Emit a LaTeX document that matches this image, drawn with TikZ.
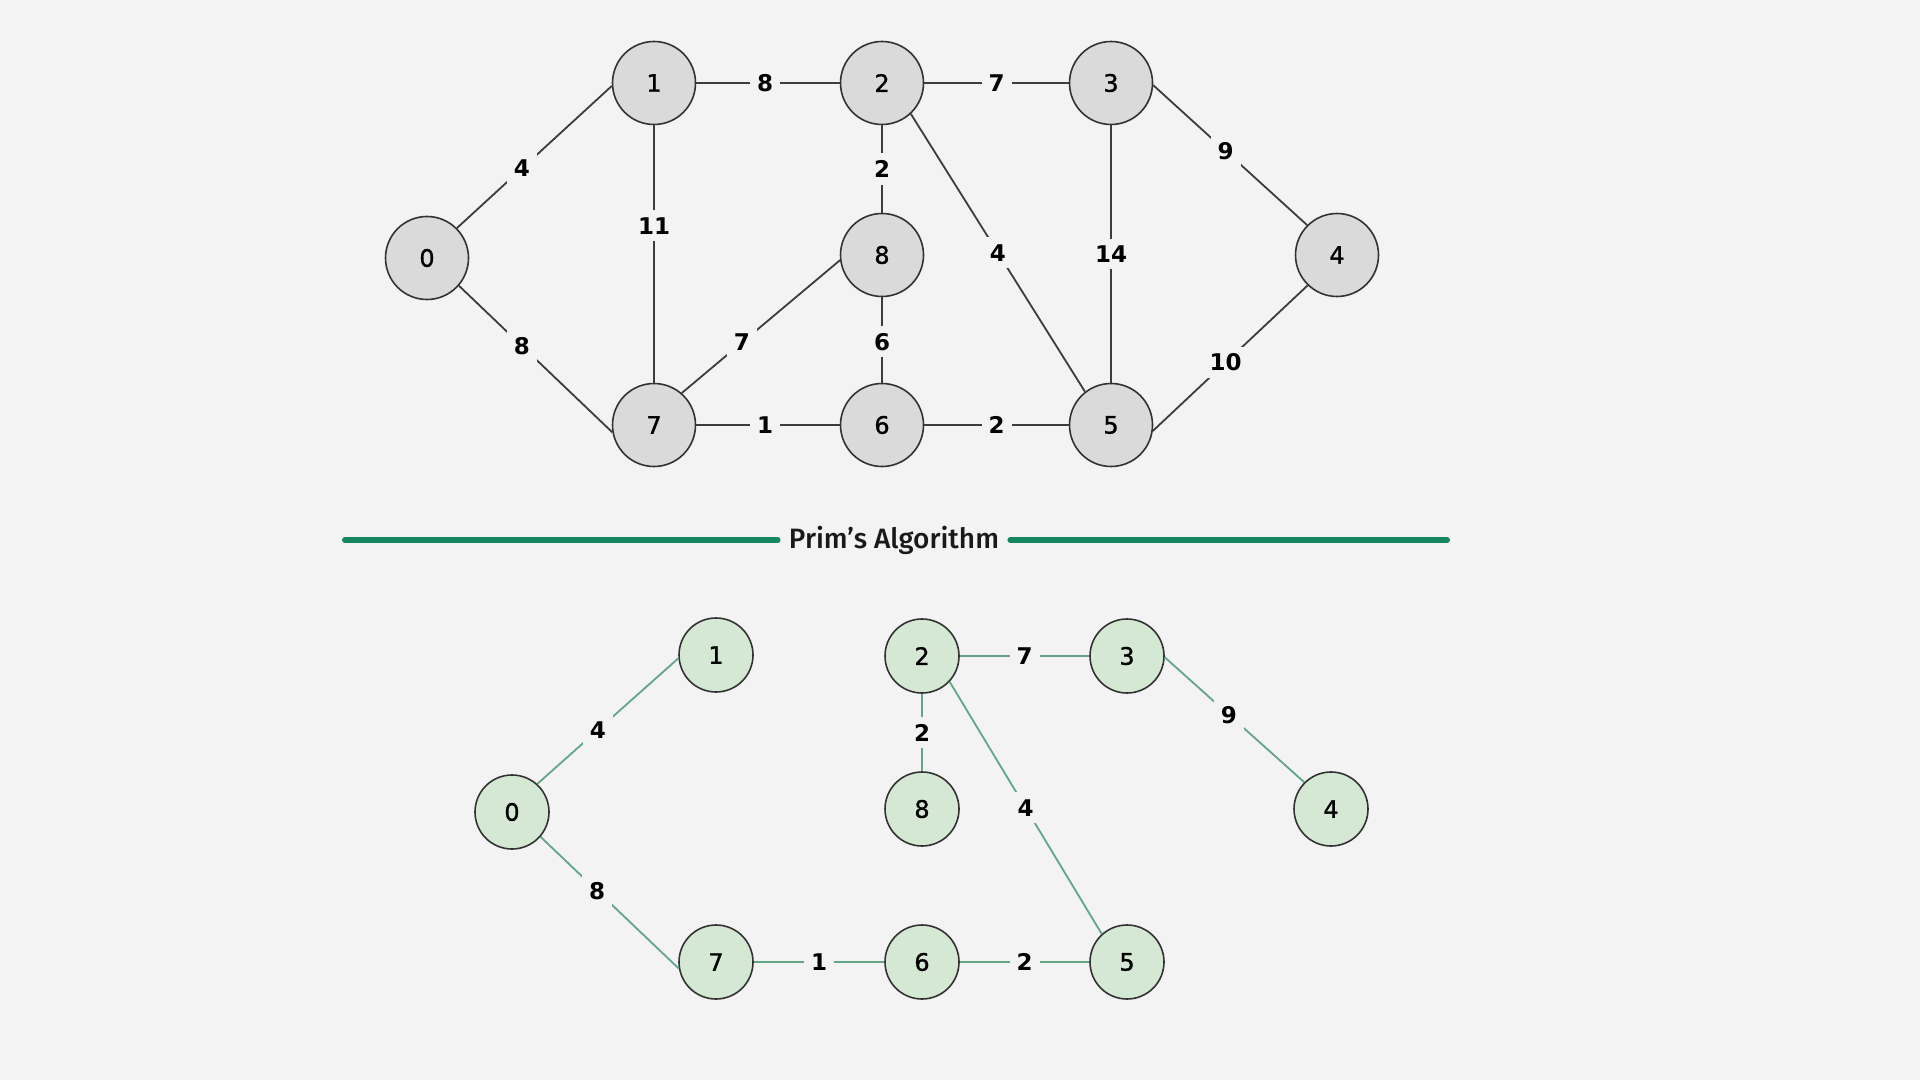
\documentclass[tikz,border=0pt]{standalone}
\usepackage{fontspec}
\setmainfont{DejaVu Sans}
\newfontfamily\vtxfont{DejaVu Sans}[BoldFont=DejaVu Sans, BoldFeatures={FakeBold=1.2}]
\newfontfamily\titlefont{Fira Sans}[UprightFont=* Medium]
\definecolor{bg}{RGB}{243,243,243}
\definecolor{topfill}{RGB}{218,218,218}
\definecolor{botfill}{RGB}{213,232,212}
\definecolor{ringline}{RGB}{50,50,50}
\definecolor{topedge}{RGB}{60,60,60}
\definecolor{mstedge}{RGB}{98,165,135}
\definecolor{rulegreen}{RGB}{20,135,95}
\definecolor{titletext}{RGB}{25,25,25}
\begin{document}
\begin{tikzpicture}[x=0.5pt,y=-0.5pt,
  vtx/.style={circle, draw=ringline, line width=0.8pt, inner sep=0pt,
    text=black, font=\vtxfont\bfseries\fontsize{12}{14}\selectfont},
  graynode/.style={vtx, fill=topfill, minimum size=41.5pt},
  greennode/.style={vtx, fill=botfill, minimum size=37pt},
  grayedge/.style={draw=topedge, line width=0.9pt},
  mstline/.style={draw=mstedge, line width=0.9pt},
  wt/.style={fill=bg, inner sep=3.5pt, text=black,
    font=\bfseries\fontsize{11.5}{13}\selectfont},
  titlerule/.style={draw=rulegreen, line width=3pt, line cap=round}]

% canvas
\useasboundingbox (0,0) rectangle (1920,1080);
\fill[bg] (0,0) rectangle (1920,1080);

% ---------- input graph ----------
\node[graynode] (a0) at (427,258) {0};
\node[graynode] (a1) at (654,83) {1};
\node[graynode] (a2) at (882,83) {2};
\node[graynode] (a3) at (1111,83) {3};
\node[graynode] (a4) at (1337,255) {4};
\node[graynode] (a8) at (882,255) {8};
\node[graynode] (a7) at (654,425) {7};
\node[graynode] (a6) at (882,425) {6};
\node[graynode] (a5) at (1111,425) {5};

\draw[grayedge] (a0.45) -- node[wt,pos=0.42] {4} (a1.184);
\draw[grayedge] (a0.-41) -- node[wt,pos=0.41] {8} (a7.190);
\draw[grayedge] (a1.east) -- node[wt,pos=0.48] {8} (a2.west);
\draw[grayedge] (a1.south) -- node[wt,pos=0.39] {11} (a7.north);
\draw[grayedge] (a2.east) -- node[wt] {7} (a3.west);
\draw[grayedge] (a2.south) -- node[wt] {2} (a8.north);
\draw[grayedge] (a2.-47) -- node[wt] {4} (a5.128);
\draw[grayedge] (a3.south) -- node[wt] {14} (a5.north);
\draw[grayedge] (a3.-3) -- node[wt,pos=0.47] {9} (a4.135);
\draw[grayedge] (a4.-134) -- node[wt,pos=0.53] {10} (a5.-8);
\draw[grayedge] (a8.187) -- node[wt,pos=0.62] {7} (a7.49);
\draw[grayedge] (a8.south) -- node[wt,pos=0.52] {6} (a6.north);
\draw[grayedge] (a7.east) -- node[wt,pos=0.48] {1} (a6.west);
\draw[grayedge] (a6.east) -- node[wt] {2} (a5.west);

% ---------- separator ----------
\node[font=\titlefont\fontsize{14}{16}\selectfont, text=titletext,
  inner xsep=5.5pt] (title) at (894,540) {Prim’s Algorithm};
\coordinate (ruleL) at (345,540);
\coordinate (ruleR) at (1447,540);
\draw[titlerule] (ruleL) -- (title.west);
\draw[titlerule] (title.east) -- (ruleR);

% ---------- minimum spanning tree ----------
\node[greennode] (b1) at (716,655) {1};
\node[greennode] (b2) at (922,656) {2};
\node[greennode] (b3) at (1127,656) {3};
\node[greennode] (b0) at (512,812) {0};
\node[greennode] (b8) at (922,809) {8};
\node[greennode] (b4) at (1331,809) {4};
\node[greennode] (b7) at (716,962) {7};
\node[greennode] (b6) at (922,962) {6};
\node[greennode] (b5) at (1127,962) {5};

\draw[mstline] (b0.48) -- node[wt,pos=0.43] {4} (b1.185);
\draw[mstline] (b0.-41) -- node[wt,pos=0.41] {8} (b7.190);
\draw[mstline] (b7.east) -- node[wt] {1} (b6.west);
\draw[mstline] (b2.south) -- node[wt] {2} (b8.north);
\draw[mstline] (b2.east) -- node[wt] {7} (b3.west);
\draw[mstline] (b2.-43) -- node[wt] {4} (b5.132);
\draw[mstline] (b3.-2.5) -- node[wt,pos=0.46] {9} (b4.135);
\draw[mstline] (b6.east) -- node[wt] {2} (b5.west);
\end{tikzpicture}
\end{document}
